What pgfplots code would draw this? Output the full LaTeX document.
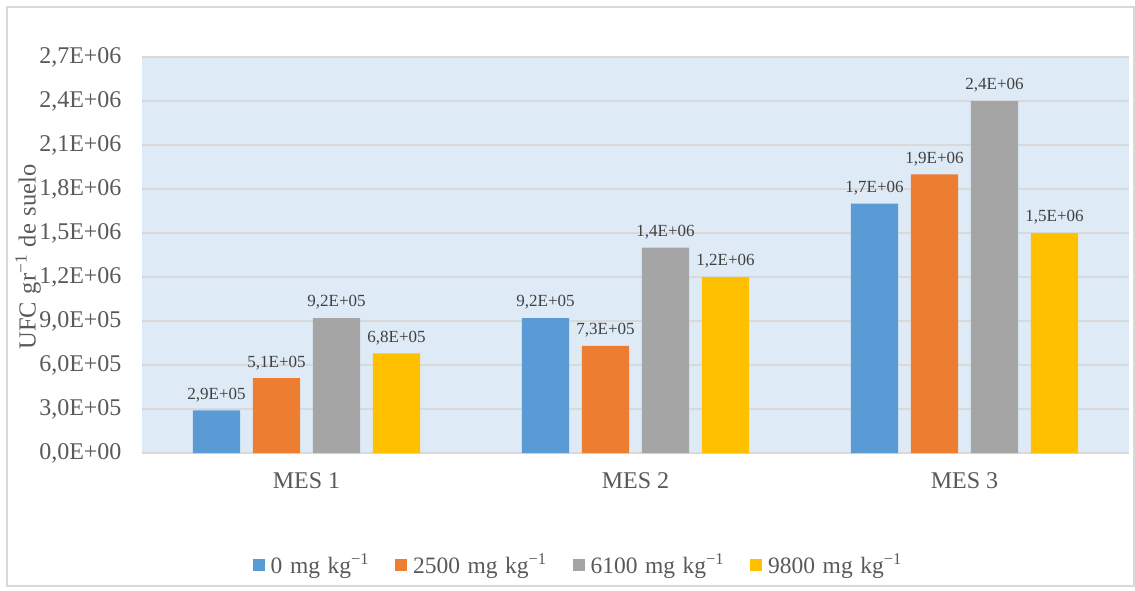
\documentclass[border=0pt]{standalone}
\usepackage{fontspec}
\setmainfont{Liberation Serif}
\usepackage{pgfplots}
\pgfplotsset{compat=1.18}
\definecolor{cblue}{HTML}{5B9BD5}
\definecolor{corange}{HTML}{ED7D31}
\definecolor{cgray}{HTML}{A5A5A5}
\definecolor{cyellow}{HTML}{FFC000}
\definecolor{bgblue}{HTML}{DEEBF7}
\definecolor{gridc}{HTML}{D9D9D9}
\definecolor{txt}{HTML}{595959}
\definecolor{lbl}{HTML}{404040}
\newcommand{\wsp}{\hspace{0.32em}}

\begin{document}
\begin{tikzpicture}
\begin{axis}[
  at={(0pt,0pt)}, anchor=south west,
  width=987pt, height=396pt, scale only axis,
  xmin=-0.5, xmax=2.5, ymin=0, ymax=2700000,
  axis background/.style={fill=bgblue},
  axis line style={draw=none},
  major tick length=0pt,
  xtick={0,1,2}, xticklabels={MES 1, MES 2, MES 3},
  ytick={0,300000,600000,900000,1200000,1500000,1800000,2100000,2400000,2700000},
  yticklabels={{0,0E+00},{3,0E+05},{6,0E+05},{9,0E+05},{1,2E+06},{1,5E+06},{1,8E+06},{2,1E+06},{2,4E+06},{2,7E+06}},
  scaled y ticks=false,
  ymajorgrids, grid style={gridc, line width=1.3pt},
  tick label style={font=\fontsize{24}{28}\selectfont, text=txt},
  yticklabel style={anchor=east, xshift=-17pt},
  xticklabel style={anchor=north, yshift=-16pt},
  ylabel={UFC\wsp gr\textsuperscript{−1}\wsp de\wsp suelo},
  ylabel style={at={(axis description cs:-0.1155,0.495)}, anchor=center, font=\fontsize{24.5}{28}\selectfont, text=txt},
  every node near coord/.append style={font=\fontsize{17}{20}\selectfont, text=lbl, yshift=5pt},
  legend columns=4,
  legend style={at={(0.442,-0.28)}, anchor=center, draw=none, fill=none,
    font=\fontsize{23.5}{28}\selectfont, text=txt,
    /tikz/every even column/.append style={column sep=24pt},
    /tikz/every odd column/.append style={column sep=4pt}},
  legend image code/.code={\fill[#1] (0pt,-7pt) rectangle (12pt,5pt);},
]
\addplot[ybar, bar width=0.143, bar shift=0, fill=cblue, draw=none,
  nodes near coords, point meta=explicit symbolic]
  coordinates {(-0.2736,290000)[2,9E+05] (0.7264,920000)[9,2E+05] (1.7264,1700000)[1,7E+06]};
\addlegendentry{0\wsp mg\wsp kg\textsuperscript{−1}}
\addplot[ybar, bar width=0.143, bar shift=0, fill=corange, draw=none,
  nodes near coords, point meta=explicit symbolic]
  coordinates {(-0.0912,510000)[5,1E+05] (0.9088,730000)[7,3E+05] (1.9088,1900000)[1,9E+06]};
\addlegendentry{2500\wsp mg\wsp kg\textsuperscript{−1}}
\addplot[ybar, bar width=0.143, bar shift=0, fill=cgray, draw=none,
  nodes near coords, point meta=explicit symbolic]
  coordinates {(0.0912,920000)[9,2E+05] (1.0912,1400000)[1,4E+06] (2.0912,2400000)[2,4E+06]};
\addlegendentry{6100\wsp mg\wsp kg\textsuperscript{−1}}
\addplot[ybar, bar width=0.143, bar shift=0, fill=cyellow, draw=none,
  nodes near coords, point meta=explicit symbolic]
  coordinates {(0.2736,680000)[6,8E+05] (1.2736,1200000)[1,2E+06] (2.2736,1500000)[1,5E+06]};
\addlegendentry{9800\wsp mg\wsp kg\textsuperscript{−1}}
\end{axis}
\pgfresetboundingbox
\useasboundingbox (-142pt,-137pt) rectangle (993pt,453pt);
\draw[gridc, line width=1.3pt] (-135pt,-133pt) rectangle (992pt,446pt);
\end{tikzpicture}
\end{document}
